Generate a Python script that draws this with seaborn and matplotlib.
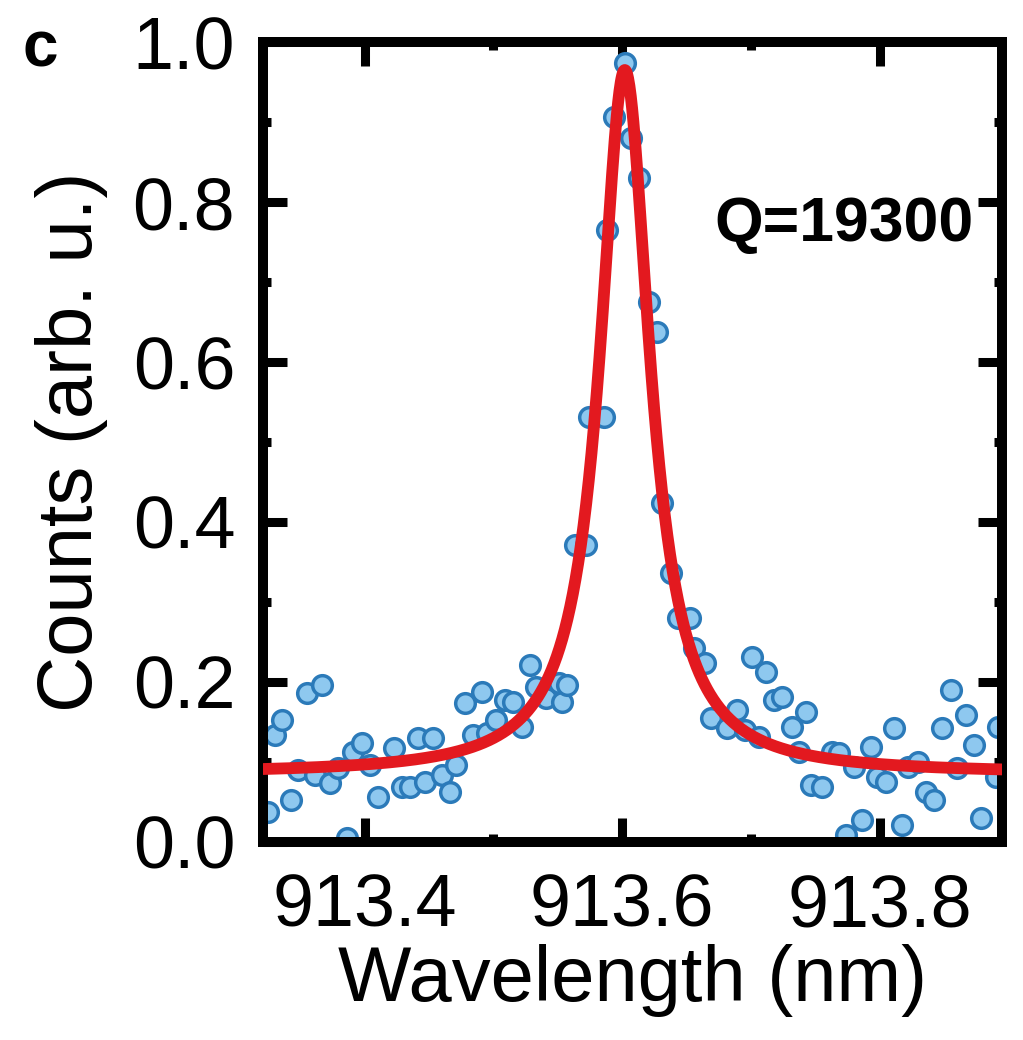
import numpy as np
import pandas as pd
import matplotlib
matplotlib.use("Agg")
import matplotlib.pyplot as plt
from matplotlib.ticker import MultipleLocator
import seaborn as sns

# Measured spectrum (wavelength in nm, normalised counts)
wavelength = [
    913.325, 913.330, 913.336, 913.343, 913.348, 913.355, 913.361, 913.367,
    913.373, 913.379, 913.386, 913.391, 913.398, 913.404, 913.410, 913.423,
    913.429, 913.435, 913.441, 913.447, 913.453, 913.460, 913.466, 913.471,
    913.478, 913.484, 913.491, 913.495, 913.502, 913.509, 913.515, 913.522,
    913.528, 913.533, 913.541, 913.551, 913.553, 913.557, 913.563, 913.572,
    913.574, 913.586, 913.588, 913.594, 913.602, 913.607, 913.613, 913.621,
    913.627, 913.631, 913.638, 913.643, 913.653, 913.656, 913.664, 913.669,
    913.681, 913.689, 913.695, 913.701, 913.706, 913.712, 913.718, 913.724,
    913.732, 913.737, 913.743, 913.747, 913.755, 913.763, 913.768, 913.774,
    913.780, 913.786, 913.793, 913.798, 913.805, 913.811, 913.817, 913.822,
    913.830, 913.836, 913.842, 913.848, 913.855, 913.860, 913.867, 913.873,
    913.879, 913.890, 913.892,
]
counts = [
    0.038, 0.134, 0.153, 0.053, 0.090, 0.186, 0.084, 0.196,
    0.074, 0.093, 0.005, 0.113, 0.124, 0.096, 0.056, 0.118,
    0.069, 0.069, 0.130, 0.075, 0.130, 0.084, 0.063, 0.096,
    0.174, 0.134, 0.188, 0.136, 0.153, 0.178, 0.175, 0.144,
    0.221, 0.194, 0.180, 0.199, 0.175, 0.196, 0.371, 0.371,
    0.531, 0.531, 0.765, 0.906, 0.974, 0.880, 0.830, 0.675,
    0.638, 0.424, 0.336, 0.280, 0.280, 0.243, 0.224, 0.155,
    0.143, 0.165, 0.140, 0.231, 0.131, 0.213, 0.178, 0.181,
    0.144, 0.113, 0.163, 0.071, 0.069, 0.113, 0.111, 0.009,
    0.094, 0.028, 0.119, 0.081, 0.075, 0.143, 0.021, 0.094,
    0.100, 0.063, 0.053, 0.143, 0.190, 0.093, 0.159, 0.121,
    0.030, 0.081, 0.144,
]

# Lorentzian fit parameters
fit_center = 913.602
fit_amplitude = 0.88
fit_baseline = 0.085
quality_factor = 19300

x_ticks = [913.4, 913.6, 913.8]
y_ticks = [0.0, 0.2, 0.4, 0.6, 0.8, 1.0]

data = pd.DataFrame({"wavelength": wavelength, "counts": counts})

fwhm = fit_center / quality_factor
x_fit = np.linspace(913.30, 913.92, 1200)
gamma = fwhm / 2.0
y_fit = fit_baseline + fit_amplitude * gamma**2 / ((x_fit - fit_center) ** 2 + gamma**2)
fit = pd.DataFrame({"wavelength": x_fit, "counts": y_fit})

sns.set_theme(style="ticks")
plt.rcParams["font.family"] = ["Liberation Sans", "DejaVu Sans"]
plt.rcParams.update({
    "text.color": "black",
    "axes.labelcolor": "black",
    "xtick.color": "black",
    "ytick.color": "black",
    "xtick.labelcolor": "black",
    "ytick.labelcolor": "black",
})

fig = plt.figure(figsize=(10.23, 10.40), dpi=100)
ax = fig.add_axes([0.2571, 0.1904, 0.7224, 0.7692])

sns.scatterplot(
    data=data, x="wavelength", y="counts", ax=ax,
    s=200, color="#8ec8ef", edgecolor="#2b7ab9", linewidth=2.5,
    zorder=2, legend=False,
)
sns.lineplot(
    data=fit, x="wavelength", y="counts", ax=ax,
    color="#e3191f", linewidth=8.5, zorder=3,
)

ax.set_xlim(913.321, 913.895)
ax.set_ylim(0.0, 1.0)
ax.set_xticks(x_ticks)
ax.set_xticklabels([f"{v:.1f}" for v in x_ticks])
ax.set_yticks(y_ticks)
ax.set_yticklabels([f"{v:.1f}" for v in y_ticks])
ax.xaxis.set_minor_locator(MultipleLocator(0.1))
ax.yaxis.set_minor_locator(MultipleLocator(0.1))

for side in ["left", "right", "top", "bottom"]:
    ax.spines[side].set_visible(True)
    ax.spines[side].set_linewidth(7.2)
    ax.spines[side].set_color("black")

ax.tick_params(which="both", direction="in", top=True, right=True,
               color="black", width=6.5, labelcolor="black")
ax.tick_params(which="major", length=17, labelsize=53, pad=20)
ax.tick_params(which="minor", length=6)
ax.tick_params(axis="x", which="major", pad=22)

ax.set_xlabel("Wavelength (nm)", fontsize=56, labelpad=2, color="black")
ax.set_ylabel("Counts (arb. u.)", fontsize=56, labelpad=18, color="black")

ax.text(913.873, 0.7725, f"Q={quality_factor}", fontsize=45,
        fontweight="bold", ha="right", va="center", color="black")
fig.text(0.022, 0.936, "c", fontsize=46, fontweight="bold",
         ha="left", va="baseline", color="black")

fig.savefig("out.png", dpi=100)
